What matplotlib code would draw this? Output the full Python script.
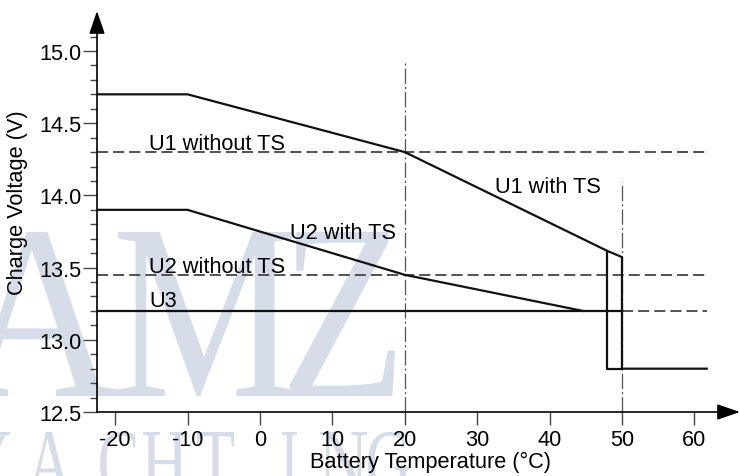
import matplotlib
matplotlib.use("Agg")
import matplotlib.pyplot as plt
from matplotlib.ticker import FixedLocator
from matplotlib.textpath import TextPath
from matplotlib.patches import PathPatch
from matplotlib.font_manager import FontProperties
from matplotlib.transforms import Affine2D

plt.rcParams['font.family'] = ['Liberation Sans', 'DejaVu Sans']
plt.rcParams['lines.scale_dashes'] = False

# curves (temperature in C, voltage in V)
x_min, x_end = -22.5, 61.7
u1_ts_x = [x_min, -10, 20, 48, 50, 50, x_end]
u1_ts_y = [14.7, 14.7, 14.3, 13.615, 13.573, 12.8, 12.8]
u1_hyst_x = [48, 48, 50]
u1_hyst_y = [13.615, 12.8, 12.8]
u2_ts_x = [x_min, -10, 20, 44.6]
u2_ts_y = [13.9, 13.9, 13.45, 13.2]
u1_fixed = 14.3
u2_fixed = 13.45
u3 = 13.2
u3_cut = 50
vlines_x = [20, 50]
vlines_top = [14.92, 14.09]

xticks = [-20, -10, 0, 10, 20, 30, 40, 50, 60]
yticks = [12.5, 13.0, 13.5, 14.0, 14.5, 15.0]
yminor = [12.6, 12.7, 12.8, 12.9, 13.1, 13.2, 13.3, 13.4, 13.6, 13.7, 13.8, 13.9,
          14.1, 14.2, 14.3, 14.4, 14.6, 14.7, 14.8, 14.9, 15.1]

W, H = 740, 477
fig = plt.figure(figsize=(W / 100, H / 100), dpi=100)
ax = fig.add_axes([97 / W, 64 / H, 643 / W, 401 / H])
ax.set_facecolor('none')
ax.set_xlim(-22.5, 66.3)
ax.set_ylim(12.5, 15.277)

# watermark
wm = '#d6dde8'
serif = FontProperties(family='Liberation Serif')

def mark(ch, x0, x1, ytop, ybot):
    tp = TextPath((0, 0), ch, size=100, prop=serif)
    bb = tp.get_extents()
    sx = (x1 - x0) / bb.width / 100
    sy = (ybot - ytop) / bb.height / 100
    tr = (Affine2D().translate(-bb.x0, -bb.y0).scale(sx, sy)
          .translate(x0 / 100, (H - ybot) / 100) + fig.dpi_scale_trans)
    fig.add_artist(PathPatch(tp, transform=tr, facecolor=wm, lw=0, zorder=-5))

for ch, a, b in [('A', -40, 118), ('M', 118, 292), ('Z', 290, 395)]:
    mark(ch, a, b, 233, 397)
for ch, a, b in [('Y', -38, 10), ('A', 27, 72), ('C', 100, 136), ('H', 143, 186),
                 ('T', 197, 234), ('I', 282, 297), ('N', 320, 367), ('G', 368, 410)]:
    mark(ch, a, b, 433, 495)

# reference lines
dash = (0, (8, 3.6))
dashdot = (0, (11, 2.2, 1.5, 2.2))
lc = '#111111'
gc = '#444444'
ax.plot([x_min, x_end], [u1_fixed, u1_fixed], color=gc, lw=1.3, ls=dash)
ax.plot([x_min, x_end], [u2_fixed, u2_fixed], color=gc, lw=1.3, ls=dash)
ax.plot([u3_cut, x_end], [u3, u3], color=gc, lw=1.3, ls=dash)
for xv, top in zip(vlines_x, vlines_top):
    ax.plot([xv, xv], [12.5, top], color='#555555', lw=0.9, ls=dashdot)

# curves
ax.plot([x_min, u3_cut], [u3, u3], color=lc, lw=1.6)
ax.plot(u2_ts_x, u2_ts_y, color=lc, lw=1.6)
ax.plot(u1_ts_x, u1_ts_y, color=lc, lw=1.6)
ax.plot(u1_hyst_x, u1_hyst_y, color=lc, lw=1.6)

# labels
fs = 15.7
ax.text(-15.3, 14.32, 'U1 without TS', fontsize=fs)
ax.text(-15.3, 13.47, 'U2 without TS', fontsize=fs)
ax.text(-15.3, 13.234, 'U3', fontsize=fs)
ax.text(4.1, 13.705, 'U2 with TS', fontsize=fs)
ax.text(32.5, 14.024, 'U1 with TS', fontsize=fs)

# axes with arrows
axc = '#444444'
for s in ax.spines.values():
    s.set_visible(False)
ax.annotate('', xy=(-22.5, 15.277), xytext=(-22.5, 12.5), annotation_clip=False,
            arrowprops=dict(arrowstyle='-|>,head_length=14,head_width=4.8', mutation_scale=1,
                            color='black', lw=1.2, shrinkA=0, shrinkB=0))
ax.annotate('', xy=(66.3, 12.5), xytext=(-22.5, 12.5), annotation_clip=False,
            arrowprops=dict(arrowstyle='-|>,head_length=14,head_width=4.8', mutation_scale=1,
                            color='black', lw=1.2, shrinkA=0, shrinkB=0))

ax.set_xticks(xticks)
ax.set_xticklabels([str(t) for t in xticks])
ax.set_yticks(yticks)
ax.set_yticklabels(['%.1f' % t for t in yticks])
ax.yaxis.set_minor_locator(FixedLocator(yminor))
ax.tick_params(axis='x', direction='out', length=9.5, width=1, color=axc, labelsize=fs, pad=3)
ax.tick_params(axis='y', which='major', direction='out', length=10, width=1, color=axc,
               labelsize=fs, pad=1)
ax.tick_params(axis='y', which='minor', direction='out', length=5, width=1, color=axc)

ax.set_xlabel('Battery Temperature (°C)', fontsize=fs, va='top')
ax.xaxis.set_label_coords(0.518, -0.097)
ax.set_ylabel('Charge Voltage (V)', fontsize=fs, va='center')
ax.yaxis.set_label_coords(-0.123, 0.524)

fig.savefig('out.png', dpi=100)
